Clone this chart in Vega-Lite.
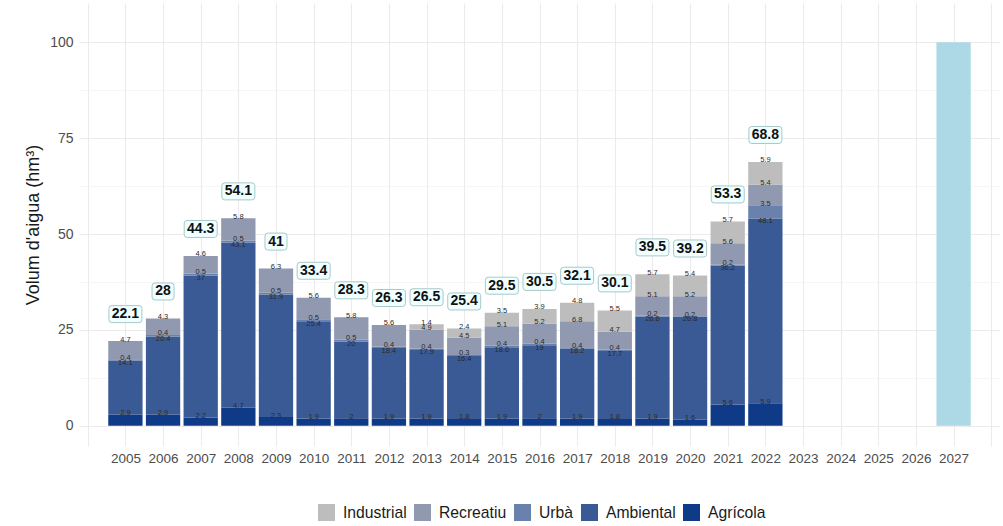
{
  "$schema": "https://vega.github.io/schema/vega-lite/v6.json",
  "width": 921,
  "height": 443,
  "autosize": {"type": "none"},
  "padding": {"left": 79, "top": 3, "right": 3, "bottom": 80},
  "background": "white",
  "config": {
    "view": {"stroke": null},
    "font": "Liberation Sans"
  },
  "datasets": {
    "sectors": [
      {"Year": 2005, "Sector": "Agrícola", "value": 2.9}, {"Year": 2005, "Sector": "Ambiental", "value": 14.1}, {"Year": 2005, "Sector": "Urbà", "value": 0.4}, {"Year": 2005, "Sector": "Recreatiu", "value": 4.7},
      {"Year": 2006, "Sector": "Agrícola", "value": 2.9}, {"Year": 2006, "Sector": "Ambiental", "value": 20.4}, {"Year": 2006, "Sector": "Urbà", "value": 0.4}, {"Year": 2006, "Sector": "Recreatiu", "value": 4.3},
      {"Year": 2007, "Sector": "Agrícola", "value": 2.2}, {"Year": 2007, "Sector": "Ambiental", "value": 37}, {"Year": 2007, "Sector": "Urbà", "value": 0.5}, {"Year": 2007, "Sector": "Recreatiu", "value": 4.6},
      {"Year": 2008, "Sector": "Agrícola", "value": 4.7}, {"Year": 2008, "Sector": "Ambiental", "value": 43.1}, {"Year": 2008, "Sector": "Urbà", "value": 0.5}, {"Year": 2008, "Sector": "Recreatiu", "value": 5.8},
      {"Year": 2009, "Sector": "Agrícola", "value": 2.3}, {"Year": 2009, "Sector": "Ambiental", "value": 31.9}, {"Year": 2009, "Sector": "Urbà", "value": 0.5}, {"Year": 2009, "Sector": "Recreatiu", "value": 6.3},
      {"Year": 2010, "Sector": "Agrícola", "value": 1.9}, {"Year": 2010, "Sector": "Ambiental", "value": 25.4}, {"Year": 2010, "Sector": "Urbà", "value": 0.5}, {"Year": 2010, "Sector": "Recreatiu", "value": 5.6},
      {"Year": 2011, "Sector": "Agrícola", "value": 2}, {"Year": 2011, "Sector": "Ambiental", "value": 20}, {"Year": 2011, "Sector": "Urbà", "value": 0.5}, {"Year": 2011, "Sector": "Recreatiu", "value": 5.8},
      {"Year": 2012, "Sector": "Agrícola", "value": 1.9}, {"Year": 2012, "Sector": "Ambiental", "value": 18.4}, {"Year": 2012, "Sector": "Urbà", "value": 0.4}, {"Year": 2012, "Sector": "Recreatiu", "value": 5.6},
      {"Year": 2013, "Sector": "Agrícola", "value": 1.9}, {"Year": 2013, "Sector": "Ambiental", "value": 17.9}, {"Year": 2013, "Sector": "Urbà", "value": 0.4}, {"Year": 2013, "Sector": "Recreatiu", "value": 4.9}, {"Year": 2013, "Sector": "Industrial", "value": 1.4},
      {"Year": 2014, "Sector": "Agrícola", "value": 1.8}, {"Year": 2014, "Sector": "Ambiental", "value": 16.4}, {"Year": 2014, "Sector": "Urbà", "value": 0.3}, {"Year": 2014, "Sector": "Recreatiu", "value": 4.5}, {"Year": 2014, "Sector": "Industrial", "value": 2.4},
      {"Year": 2015, "Sector": "Agrícola", "value": 1.9}, {"Year": 2015, "Sector": "Ambiental", "value": 18.6}, {"Year": 2015, "Sector": "Urbà", "value": 0.4}, {"Year": 2015, "Sector": "Recreatiu", "value": 5.1}, {"Year": 2015, "Sector": "Industrial", "value": 3.5},
      {"Year": 2016, "Sector": "Agrícola", "value": 2}, {"Year": 2016, "Sector": "Ambiental", "value": 19}, {"Year": 2016, "Sector": "Urbà", "value": 0.4}, {"Year": 2016, "Sector": "Recreatiu", "value": 5.2}, {"Year": 2016, "Sector": "Industrial", "value": 3.9},
      {"Year": 2017, "Sector": "Agrícola", "value": 1.9}, {"Year": 2017, "Sector": "Ambiental", "value": 18.2}, {"Year": 2017, "Sector": "Urbà", "value": 0.4}, {"Year": 2017, "Sector": "Recreatiu", "value": 6.8}, {"Year": 2017, "Sector": "Industrial", "value": 4.8},
      {"Year": 2018, "Sector": "Agrícola", "value": 1.8}, {"Year": 2018, "Sector": "Ambiental", "value": 17.7}, {"Year": 2018, "Sector": "Urbà", "value": 0.4}, {"Year": 2018, "Sector": "Recreatiu", "value": 4.7}, {"Year": 2018, "Sector": "Industrial", "value": 5.5},
      {"Year": 2019, "Sector": "Agrícola", "value": 1.9}, {"Year": 2019, "Sector": "Ambiental", "value": 26.6}, {"Year": 2019, "Sector": "Urbà", "value": 0.2}, {"Year": 2019, "Sector": "Recreatiu", "value": 5.1}, {"Year": 2019, "Sector": "Industrial", "value": 5.7},
      {"Year": 2020, "Sector": "Agrícola", "value": 1.6}, {"Year": 2020, "Sector": "Ambiental", "value": 26.8}, {"Year": 2020, "Sector": "Urbà", "value": 0.2}, {"Year": 2020, "Sector": "Recreatiu", "value": 5.2}, {"Year": 2020, "Sector": "Industrial", "value": 5.4},
      {"Year": 2021, "Sector": "Agrícola", "value": 5.6}, {"Year": 2021, "Sector": "Ambiental", "value": 36.2}, {"Year": 2021, "Sector": "Urbà", "value": 0.2}, {"Year": 2021, "Sector": "Recreatiu", "value": 5.6}, {"Year": 2021, "Sector": "Industrial", "value": 5.7},
      {"Year": 2022, "Sector": "Agrícola", "value": 5.9}, {"Year": 2022, "Sector": "Ambiental", "value": 48.1}, {"Year": 2022, "Sector": "Urbà", "value": 3.5}, {"Year": 2022, "Sector": "Recreatiu", "value": 5.4}, {"Year": 2022, "Sector": "Industrial", "value": 5.9}
    ],
    "totals": [
      {"Year": 2005, "value": 22.1}, {"Year": 2006, "value": 28}, {"Year": 2007, "value": 44.3}, {"Year": 2008, "value": 54.1},
      {"Year": 2009, "value": 41}, {"Year": 2010, "value": 33.4}, {"Year": 2011, "value": 28.3}, {"Year": 2012, "value": 26.3},
      {"Year": 2013, "value": 26.5}, {"Year": 2014, "value": 25.4}, {"Year": 2015, "value": 29.5}, {"Year": 2016, "value": 30.5},
      {"Year": 2017, "value": 32.1}, {"Year": 2018, "value": 30.1}, {"Year": 2019, "value": 39.5}, {"Year": 2020, "value": 39.2},
      {"Year": 2021, "value": 53.3}, {"Year": 2022, "value": 68.8}
    ],
    "target": [{"Year": 2027, "value": 100}]
  },
  "encoding": {
    "x": {
      "field": "Year",
      "type": "quantitative",
      "scale": {"domain": [2003.9, 2028.1], "nice": false, "zero": false},
      "axis": {
        "values": [2004, 2004.5, 2005, 2005.5, 2006, 2006.5, 2007, 2007.5, 2008, 2008.5, 2009, 2009.5, 2010, 2010.5, 2011, 2011.5, 2012, 2012.5, 2013, 2013.5, 2014, 2014.5, 2015, 2015.5, 2016, 2016.5, 2017, 2017.5, 2018, 2018.5, 2019, 2019.5, 2020, 2020.5, 2021, 2021.5, 2022, 2022.5, 2023, 2023.5, 2024, 2024.5, 2025, 2025.5, 2026, 2026.5, 2027, 2027.5, 2028],
        "format": "d",
        "labelExpr": "(datum.value % 1 === 0 && datum.value >= 2005 && datum.value <= 2027) ? datum.label : ''",
        "labelOverlap": false,
        "labelFlush": false,
        "grid": true,
        "gridColor": {"condition": {"test": "datum.value % 1 !== 0", "value": "#F2F2F2"}, "value": "#EBEBEB"},
        "gridWidth": {"condition": {"test": "datum.value % 1 !== 0", "value": 0.7}, "value": 1.1},
        "ticks": false,
        "domain": false,
        "labelFontSize": 13.5,
        "labelColor": "#4D4D4D",
        "labelPadding": 5,
        "title": null
      }
    },
    "y": {
      "field": "value",
      "type": "quantitative",
      "scale": {"domain": [-5.25, 110.25], "nice": false, "zero": false},
      "axis": {
        "values": [0, 12.5, 25, 37.5, 50, 62.5, 75, 87.5, 100],
        "labelExpr": "datum.value % 25 === 0 ? datum.label : ''",
        "labelOverlap": false,
        "grid": true,
        "gridColor": {"condition": {"test": "datum.value % 25 !== 0", "value": "#F2F2F2"}, "value": "#EBEBEB"},
        "gridWidth": {"condition": {"test": "datum.value % 25 !== 0", "value": 0.7}, "value": 1.1},
        "ticks": false,
        "domain": false,
        "labelFontSize": 14,
        "labelColor": "#4D4D4D",
        "labelPadding": 6,
        "title": "Volum d'aigua (hm³)",
        "titleFontSize": 18,
        "titleFontWeight": "normal",
        "titleColor": "#1A1A1A",
        "titlePadding": 7
      }
    }
  },
  "layer": [
    {
      "data": {"name": "sectors"},
      "transform": [{"calculate": "indexof(['Agrícola', 'Ambiental', 'Urbà', 'Recreatiu', 'Industrial'], datum.Sector)", "as": "stackRank"}],
      "mark": {"type": "bar", "size": 34.3},
      "encoding": {
        "order": {"field": "stackRank", "type": "quantitative", "sort": "ascending"},
        "color": {
          "field": "Sector",
          "type": "nominal",
          "scale": {"domain": ["Industrial", "Recreatiu", "Urbà", "Ambiental", "Agrícola"], "range": ["#BDBDBD", "#9099B0", "#6A80AD", "#3A5A95", "#0F3A87"]},
          "legend": {
            "title": null,
            "orient": "none",
            "direction": "horizontal",
            "legendX": 239,
            "legendY": 501,
            "symbolType": "square",
            "symbolSize": 289,
            "symbolStrokeWidth": 0,
            "labelFontSize": 15.7,
            "labelColor": "#1A1A1A",
            "labelOffset": 8,
            "columnPadding": 7,
            "padding": 0
          }
        }
      }
    },
    {
      "data": {"name": "sectors"},
      "transform": [{"calculate": "indexof(['Agrícola', 'Ambiental', 'Urbà', 'Recreatiu', 'Industrial'], datum.Sector)", "as": "stackRank"}],
      "mark": {"type": "text", "fontSize": 7.5, "baseline": "middle", "dy": -1.5, "color": "#2A2A2A"},
      "encoding": {
        "y": {"field": "value", "type": "quantitative", "stack": "zero"},
        "detail": {"field": "Sector", "type": "nominal"},
        "order": {"field": "stackRank", "type": "quantitative", "sort": "ascending"},
        "text": {"condition": {"test": "datum.Sector !== 'Ambiental'", "field": "value", "type": "quantitative"}, "value": ""}
      }
    },
    {
      "data": {"name": "sectors"},
      "transform": [{"calculate": "indexof(['Agrícola', 'Ambiental', 'Urbà', 'Recreatiu', 'Industrial'], datum.Sector)", "as": "stackRank"}],
      "mark": {"type": "text", "fontSize": 7.5, "baseline": "middle", "dy": 2.5, "color": "#2A2A2A"},
      "encoding": {
        "y": {"field": "value", "type": "quantitative", "stack": "zero"},
        "detail": {"field": "Sector", "type": "nominal"},
        "order": {"field": "stackRank", "type": "quantitative", "sort": "ascending"},
        "text": {"condition": {"test": "datum.Sector === 'Ambiental'", "field": "value", "type": "quantitative"}, "value": ""}
      }
    },
    {
      "data": {"name": "totals"},
      "mark": {"type": "point", "filled": true, "fill": "#F0FFFF", "stroke": "#A9C8C8", "strokeWidth": 1, "opacity": 1, "yOffset": -27, "size": 1156},
      "encoding": {
        "shape": {
          "condition": {"test": "length(toString(datum.value)) < 3", "value": "M-0.477,-0.5H0.477Q0.647,-0.5 0.647,-0.33V0.33Q0.647,0.5 0.477,0.5H-0.477Q-0.647,0.5 -0.647,0.33V-0.33Q-0.647,-0.5 -0.477,-0.5Z"},
          "value": "M-0.8,-0.5H0.8Q0.97,-0.5 0.97,-0.33V0.33Q0.97,0.5 0.8,0.5H-0.8Q-0.97,0.5 -0.97,0.33V-0.33Q-0.97,-0.5 -0.8,-0.5Z"
        }
      }
    },
    {
      "data": {"name": "totals"},
      "mark": {"type": "text", "fontSize": 14, "fontWeight": "bold", "baseline": "middle", "dy": -27, "color": "#111111"},
      "encoding": {
        "text": {"field": "value", "type": "quantitative"}
      }
    },
    {
      "data": {"name": "target"},
      "mark": {"type": "bar", "size": 34.3, "color": "#ADD8E6"},
      "encoding": {}
    }
  ]
}
